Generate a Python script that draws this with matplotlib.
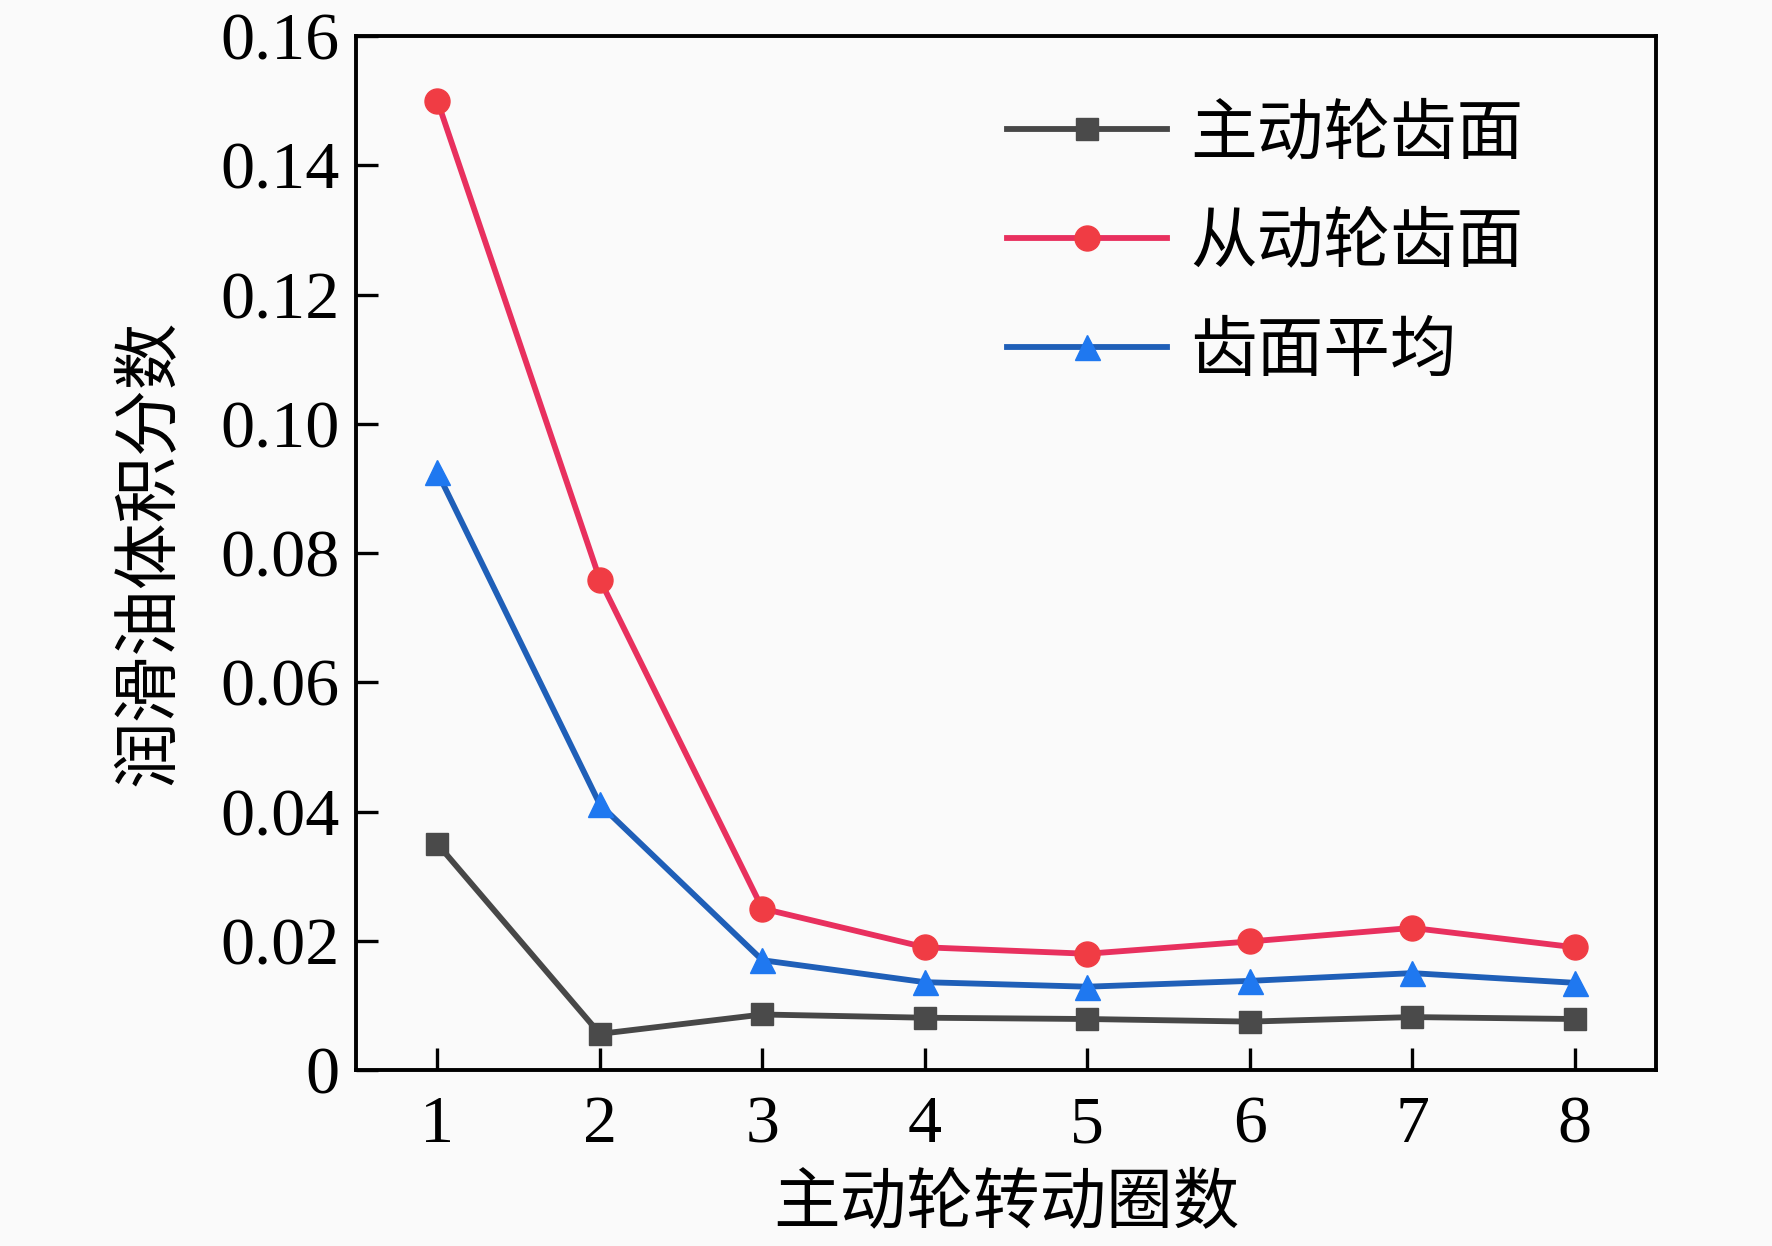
import matplotlib
matplotlib.use("Agg")
import matplotlib.pyplot as plt

plt.rcParams["font.family"] = ["Liberation Serif", "Noto Sans CJK SC"]

turns = [1, 2, 3, 4, 5, 6, 7, 8]
driving = [0.035, 0.0056, 0.0086, 0.0081, 0.0079, 0.0075, 0.0082, 0.0079]
driven = [0.150, 0.0759, 0.0250, 0.0190, 0.0180, 0.0199, 0.0220, 0.0190]
average = [0.0925, 0.0411, 0.0170, 0.0136, 0.0129, 0.0138, 0.0150, 0.0135]
yticks = [0, 0.02, 0.04, 0.06, 0.08, 0.10, 0.12, 0.14, 0.16]
ytick_labels = ["0", "0.02", "0.04", "0.06", "0.08", "0.10", "0.12", "0.14", "0.16"]

fig = plt.figure(figsize=(17.72, 12.46), dpi=100, facecolor="#fafafa")
ax = fig.add_axes([0.201, 0.1412, 0.7335, 0.8298])
ax.set_facecolor("#fafafa")

ax.plot(turns, driving, color="#474747", lw=4.2, marker="s", ms=16,
        mfc="#4a4a4a", mec="#4a4a4a", label="主动轮齿面")
ax.plot(turns, driven, color="#e8305e", lw=4.2, marker="o", ms=18,
        mfc="#f03c44", mec="#f03c44", label="从动轮齿面")
ax.plot(turns, average, color="#1f5fb8", lw=4.2, marker="^", ms=18,
        mfc="#1f78f0", mec="#1f78f0", label="齿面平均")

ax.set_xlim(0.5, 8.5)
ax.set_ylim(0, 0.16)
ax.set_xticks(turns)
ax.set_yticks(yticks)
ax.set_yticklabels(ytick_labels)
ax.tick_params(direction="in", length=16, width=2.4, labelsize=49)
ax.tick_params(axis="x", pad=18)
ax.tick_params(axis="y", pad=12)
for s in ax.spines.values():
    s.set_linewidth(2.8)

ax.set_xlabel("主动轮转动圈数", fontsize=48, family=["Noto Sans CJK SC"], labelpad=10)
ax.set_ylabel("润滑油体积分数", fontsize=48, family=["Noto Sans CJK SC"], labelpad=26)

leg = ax.legend(loc="upper right", bbox_to_anchor=(0.944, 0.996), frameon=False,
                prop={"family": "Noto Sans CJK SC", "size": 48},
                handlelength=2.4, labelspacing=0.62, handletextpad=0.35)

fig.savefig("out.png", dpi=100, facecolor=fig.get_facecolor())
